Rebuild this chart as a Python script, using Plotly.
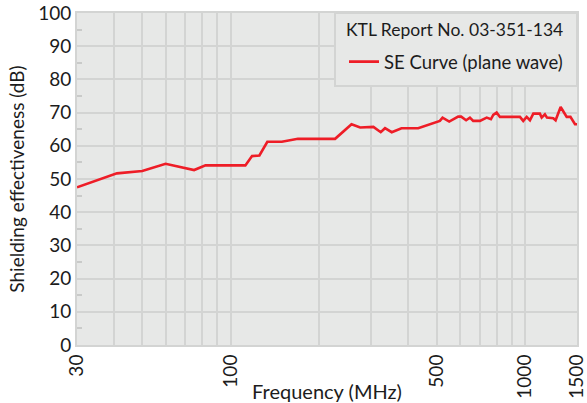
import plotly.graph_objects as go

freq_mhz = [30, 41, 50, 60, 75, 82, 112, 118, 125, 133, 149, 169, 226, 257, 275,
            305, 323, 334, 352, 380, 433, 513, 524, 552, 592, 606, 630, 649, 666,
            702, 740, 765, 779, 800, 821, 960, 985, 1012, 1038, 1066, 1122, 1138,
            1167, 1186, 1246, 1269, 1320, 1384, 1425, 1477, 1500]
se_db = [47.5, 51.7, 52.4, 54.6, 52.7, 54.1, 54.1, 56.9, 57.1, 61.2, 61.2, 62.1,
         62.1, 66.5, 65.5, 65.7, 64.1, 65.3, 64.1, 65.3, 65.3, 67.5, 68.5, 67.3,
         68.8, 68.8, 67.7, 68.5, 67.5, 67.5, 68.5, 68.0, 69.3, 70.0, 68.7, 68.7,
         67.5, 68.7, 67.7, 69.7, 69.7, 68.5, 69.5, 68.5, 68.3, 67.7, 71.7, 68.7,
         68.7, 66.5, 66.5]

x_ticks = [30, 100, 500, 1000, 1500]
x_minor = [40, 50, 60, 70, 80, 90, 200, 300, 400, 600, 700, 800, 900]

series_name = "SE Curve (plane wave)"
legend_title = "KTL Report No. 03-351-134"

FONT = "Lato"
TXT = "#1c1c1c"
GRID = "#d3d4d3"
BG = "#e7e8e7"
MINOR = dict(dtick=10, tick0=5, ticks="inside", ticklen=5, tickcolor="#c9cac9",
             tickwidth=2, showgrid=False)

fig = go.Figure()
fig.add_trace(go.Scatter(x=freq_mhz, y=se_db, mode="lines", name=series_name,
                         line=dict(color="#ee1d27", width=2.6)))

fig.update_layout(
    width=587, height=403,
    margin=dict(l=77, r=10, t=13, b=58),
    paper_bgcolor="white", plot_bgcolor=BG,
    font=dict(family=FONT, color=TXT),
    showlegend=True,
    legend=dict(x=0.534, y=0.852, xanchor="left", yanchor="middle",
                bgcolor="rgba(0,0,0,0)", borderwidth=0,
                font=dict(size=18.5, family=FONT, color=TXT),
                itemwidth=30, tracegroupgap=0),
    shapes=[dict(type="rect", xref="x domain", yref="y domain",
                 x0=0.516, x1=1.0, y0=0.780, y1=1.0, layer="above",
                 fillcolor=BG, line=dict(color=GRID, width=2))],
    annotations=[dict(text=legend_title, xref="paper", yref="paper",
                      x=0.755, y=0.949, xanchor="center", yanchor="middle",
                      showarrow=False,
                      font=dict(size=17.5, family=FONT, color=TXT))],
    yaxis2=dict(overlaying="y", side="right", range=[0, 100], automargin=False,
                showticklabels=False, showgrid=False, zeroline=False, ticks="",
                showline=False, dtick=10, minor=MINOR),
)

fig.update_xaxes(
    type="log", range=[1.4771, 3.17615], automargin=False,
    tickmode="array", tickvals=x_ticks, ticktext=[str(v) for v in x_ticks],
    tickangle=-90, tickfont=dict(size=19, family=FONT, color=TXT),
    ticklabeloverflow="allow",
    showgrid=True, gridcolor=GRID, gridwidth=2,
    minor=dict(tickmode="array", tickvals=x_minor, showgrid=True,
               gridcolor=GRID, gridwidth=2, ticks=""),
    showline=True, linecolor=GRID, linewidth=2, mirror=True,
    ticks="", zeroline=False,
    title=dict(text="Frequency (MHz)", font=dict(size=20, family=FONT, color=TXT),
               standoff=0),
)

fig.update_layout(yaxis=dict(
    range=[0, 100], dtick=10, tick0=0, automargin=False,
    tickfont=dict(size=19, family=FONT, color=TXT),
    showgrid=True, gridcolor=GRID, gridwidth=2,
    minor=MINOR,
    showline=True, linecolor=GRID, linewidth=2, mirror=True,
    ticks="", zeroline=False,
    title=dict(text="Shielding effectiveness (dB)",
               font=dict(size=19, family=FONT, color=TXT), standoff=8),
))

fig.write_html("out.html", config={"displayModeBar": False},
               post_script="document.body.style.margin='0';document.body.style.overflow='hidden';")
